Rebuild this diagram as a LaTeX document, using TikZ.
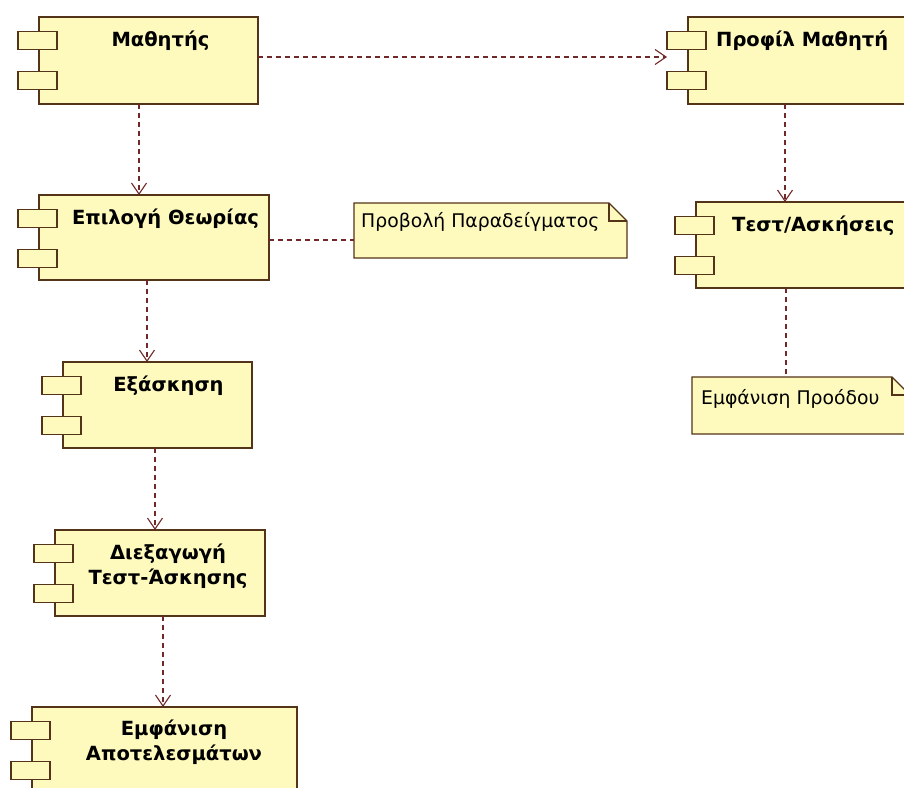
\documentclass[tikz,border=0pt]{standalone}
\usepackage{fontspec}
\setmainfont{DejaVu Sans}
\usetikzlibrary{arrows.meta}

\definecolor{compfill}{RGB}{254,250,190}
\definecolor{compline}{RGB}{84,52,24}
\definecolor{depline}{RGB}{112,40,40}

\tikzset{
  compbox/.style={draw=compline, fill=compfill, line width=1.3pt, inner sep=0pt, outer sep=0pt},
  portbox/.style={compbox, minimum width=39pt, minimum height=18pt},
  comptext/.style={font=\fontsize{19.5}{25}\selectfont\bfseries, inner sep=0pt, align=center},
  notetext/.style={font=\fontsize{18.8}{20}\selectfont, inner sep=0pt, anchor=west},
  noteframe/.style={draw=none, inner sep=0pt, outer sep=0pt},
  notepath/.style={draw=compline, fill=compfill, line width=1.3pt, line join=miter},
  dep/.style={draw=depline, line width=1.2pt, dash pattern=on 5pt off 4pt,
              -{Straight Barb[length=11pt,width=15pt,line width=1.1pt]}},
  link/.style={draw=depline, line width=1.2pt, dash pattern=on 5pt off 4pt},
}

% component box with its two port rectangles on the left side
\newcommand{\umlcomp}[5]{%
  \node[compbox, minimum width=#4pt, minimum height=#5pt, anchor=north west] (#1) at (#2,#3) {};
  \node[portbox, anchor=north west] (#1-p1) at ([xshift=-21pt,yshift=-14.5pt]#1.north west) {};
  \node[portbox, anchor=north west] (#1-p2) at ([xshift=-21pt,yshift=-54.5pt]#1.north west) {};
}

% note with a folded top-right corner
\newcommand{\umlnote}[5]{%
  \node[noteframe, minimum width=#4pt, minimum height=#5pt, anchor=north west] (#1) at (#2,#3) {};
  \draw[notepath] (#1.north west) -- ([xshift=-18pt]#1.north east)
     -- ([yshift=-18pt]#1.north east) -- (#1.south east) -- (#1.south west) -- cycle;
  \draw[notepath, fill=none] ([xshift=-18pt]#1.north east) -- ([xshift=-18pt,yshift=-18pt]#1.north east)
     -- ([yshift=-18pt]#1.north east);
}

\begin{document}
\begin{tikzpicture}[x=1pt,y=-1pt]
\useasboundingbox[fill=white] (0,0) rectangle (904,787);

% components
\umlcomp{stud}{39}{17}{219}{87}
\umlcomp{profile}{688}{17}{240}{87}
\umlcomp{theory}{39}{195}{230}{85}
\umlcomp{tests}{696}{202}{240}{86}
\umlcomp{practice}{63}{362}{189}{86}
\umlcomp{conduct}{55}{530}{210}{86}
\umlcomp{results}{32}{707}{265}{110}

% component titles
\node[comptext] (stud-t) at (160.5,41) {Μαθητής};
\node[comptext, anchor=west] (profile-t) at (716,41) {Προφίλ Μαθητή};
\node[comptext] (theory-t) at (165.5,219) {Επιλογή Θεωρίας};
\node[comptext, anchor=west] (tests-t) at (732,226) {Τεστ/Ασκήσεις};
\node[comptext] (practice-t) at (168.5,386) {Εξάσκηση};
\node[comptext] (conduct-t) at (168,566) {Διεξαγωγή\\Τεστ-Άσκησης};
\node[comptext] (results-t) at (174,742) {Εμφάνιση\\Αποτελεσμάτων};

% notes
\umlnote{example}{354}{203}{273}{55}
\node[notetext] (example-t) at (361,222) {Προβολή Παραδείγματος};
\umlnote{progress}{692}{377}{218}{57}
\node[notetext] (progress-t) at (701,399) {Εμφάνιση Προόδου};

% dependencies
\draw[dep] ([yshift=3.5pt]stud.east) -- ([yshift=3.5pt]stud.east -| profile-p1.west);
\draw[dep] ([xshift=-9.5pt]stud.south) -- ([xshift=-9.5pt]stud.south |- theory.north);
\draw[dep] ([xshift=-7pt]theory.south) -- ([xshift=-7pt]theory.south |- practice.north);
\draw[dep] ([xshift=-2.5pt]practice.south) -- ([xshift=-2.5pt]practice.south |- conduct.north);
\draw[dep] ([xshift=3pt]conduct.south) -- ([xshift=3pt]conduct.south |- results.north);
\draw[dep] ([xshift=-23pt]profile.south) -- ([xshift=-23pt]profile.south |- tests.north);

% note attachments
\draw[link] ([yshift=-2.5pt]theory.east) -- ([yshift=-2.5pt]theory.east -| example.west);
\draw[link] ([xshift=-30pt]tests.south) -- ([xshift=-30pt]tests.south |- progress.north);
\end{tikzpicture}
\end{document}
